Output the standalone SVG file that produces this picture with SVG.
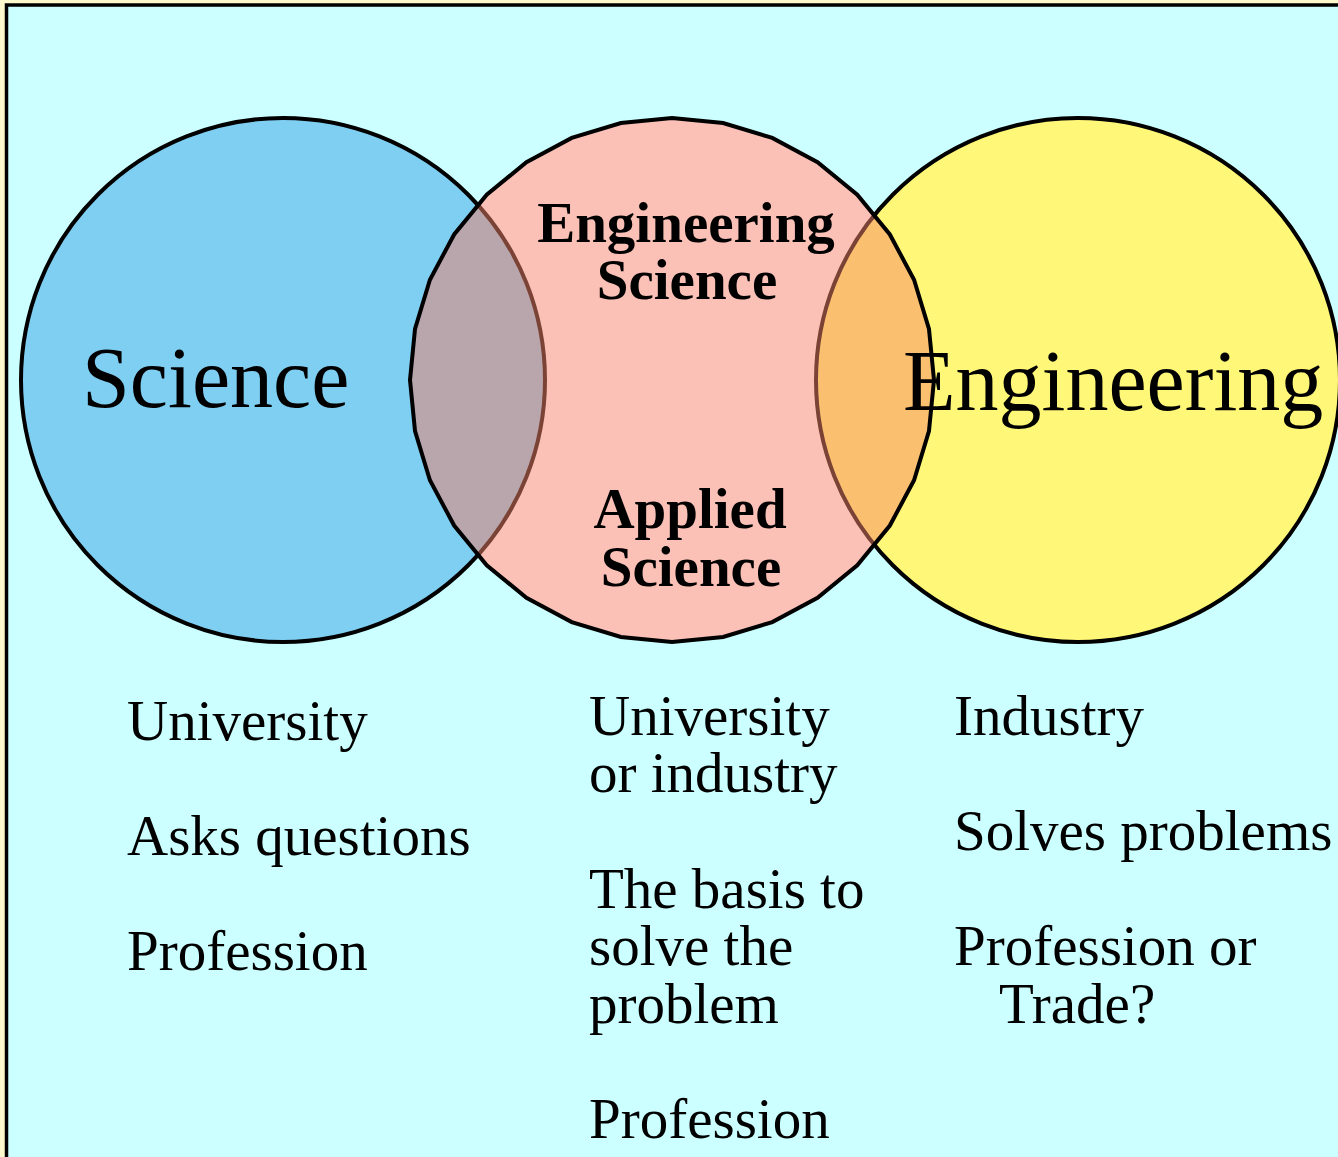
<svg xmlns="http://www.w3.org/2000/svg" width="1338" height="1157" viewBox="0 0 1338 1157">
<style>
.big{font-family:"Liberation Serif","Times New Roman",serif;font-size:86px;fill:#000}
.bold{font-family:"Liberation Serif","Times New Roman",serif;font-size:57px;font-weight:bold;fill:#000;text-anchor:middle}
.txt{font-family:"Liberation Serif","Times New Roman",serif;font-size:57px;fill:#000}
.edge{fill:none;stroke:#000;stroke-width:4}
.inner{fill:none;stroke:#7B4335;stroke-width:4}
</style>
<defs>
<polygon id="pinkShape" points="672,118 723.11,123.03 772.26,137.94 817.56,162.15 857.26,194.74 889.85,234.44 914.06,279.74 928.97,328.89 934,380 928.97,431.11 914.06,480.26 889.85,525.56 857.26,565.26 817.56,597.85 772.26,622.06 723.11,636.97 672,642 620.89,636.97 571.74,622.06 526.44,597.85 486.74,565.26 454.15,525.56 429.94,480.26 415.03,431.11 410,380 415.03,328.89 429.94,279.74 454.15,234.44 486.74,194.74 526.44,162.15 571.74,137.94 620.89,123.03"/>
<clipPath id="pinkClip"><use href="#pinkShape"/></clipPath>
</defs>
<rect x="0" y="0" width="1338" height="1157" fill="#FFFACD"/>
<rect x="6.5" y="5" width="1340" height="1160" fill="#CCFFFF" stroke="#000" stroke-width="3.5"/>
<g id="science">
<circle cx="283" cy="380" r="262" class="edge" style="fill:#7FCFF3"/>
</g>
<g id="engineering">
<circle cx="1078" cy="380" r="262" class="edge" style="fill:#FFF778"/>
</g>
<g id="middle">
<use href="#pinkShape" fill="#FBC1B7"/>
<g clip-path="url(#pinkClip)">
<circle cx="283" cy="380" r="262" fill="#B9A6AC"/>
<circle cx="1078" cy="380" r="262" fill="#FBBF70"/>
<circle cx="283" cy="380" r="262" class="inner"/>
<circle cx="1078" cy="380" r="262" class="inner"/>
</g>
<use href="#pinkShape" class="edge"/>
</g>
<g id="labels">
<text class="big" x="82" y="407">Science</text>
<text class="big" x="903" y="410">Engineering</text>
<text class="bold" x="686" y="242">Engineering</text>
<text class="bold" x="687" y="299">Science</text>
<text class="bold" x="690" y="528">Applied</text>
<text class="bold" x="691" y="586">Science</text>
</g>
<g id="col-science">
<text class="txt" x="127" y="740">University</text>
<text class="txt" x="127" y="855">Asks questions</text>
<text class="txt" x="127" y="970">Profession</text>
</g>
<g id="col-middle">
<text class="txt" x="589" y="735">University</text>
<text class="txt" x="589" y="792">or industry</text>
<text class="txt" x="589" y="908">The basis to</text>
<text class="txt" x="589" y="965">solve the</text>
<text class="txt" x="589" y="1023">problem</text>
<text class="txt" x="589" y="1138">Profession</text>
</g>
<g id="col-engineering">
<text class="txt" x="954" y="735">Industry</text>
<text class="txt" x="954" y="850">Solves problems</text>
<text class="txt" x="954" y="965">Profession or</text>
<text class="txt" x="999" y="1023">Trade?</text>
</g>
<g id="connectors"/>
</svg>
